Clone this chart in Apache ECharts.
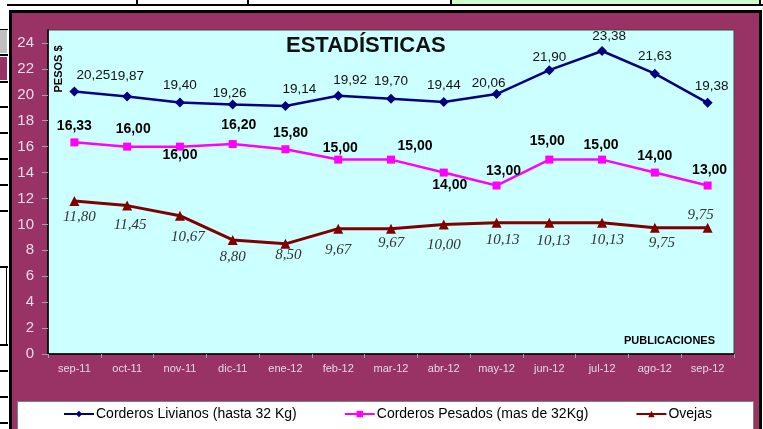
<!DOCTYPE html>
<html>
<head>
<meta charset="utf-8">
<script src="https://cdn.jsdelivr.net/npm/echarts@6/dist/echarts.min.js"></script>
<style>
html,body{margin:0;padding:0;width:763px;height:429px;overflow:hidden;background:#fff;position:relative;}
.d{position:absolute;}
#chart{position:absolute;left:0;top:0;width:763px;height:429px;}
</style>
</head>
<body>
<!-- spreadsheet decor -->
<div class="d" style="left:452px;top:0;width:307px;height:4px;background:#CCFFCC;"></div>
<div class="d" style="left:7px;top:4px;width:756px;height:2px;background:#000;"></div>
<div class="d" style="left:136px;top:0;width:2px;height:5px;background:#000;"></div>
<div class="d" style="left:247px;top:0;width:2px;height:5px;background:#000;"></div>
<div class="d" style="left:450px;top:0;width:2px;height:5px;background:#000;"></div>
<div class="d" style="left:759px;top:0;width:2px;height:5px;background:#000;"></div>
<div class="d" style="left:0;top:30px;width:7px;height:23px;background:#C0C0C0;"></div>
<div class="d" style="left:0;top:57px;width:7px;height:23px;background:#993366;"></div>
<div class="d" style="left:0;top:29px;width:8px;height:1px;background:#000;"></div>
<div class="d" style="left:0;top:54px;width:8px;height:2px;background:#000;"></div>
<div class="d" style="left:0;top:81px;width:8px;height:2px;background:#000;"></div>
<div class="d" style="left:0;top:106px;width:8px;height:2px;background:#000;"></div>
<div class="d" style="left:0;top:132px;width:8px;height:2px;background:#000;"></div>
<div class="d" style="left:0;top:158px;width:8px;height:2px;background:#000;"></div>
<div class="d" style="left:0;top:184px;width:8px;height:2px;background:#000;"></div>
<div class="d" style="left:0;top:210px;width:8px;height:2px;background:#000;"></div>
<div class="d" style="left:0;top:266px;width:8px;height:2px;background:#000;"></div>
<div class="d" style="left:6px;top:266px;width:1px;height:80px;background:#000;"></div>
<div class="d" style="left:0;top:344px;width:8px;height:2px;background:#000;"></div>
<div class="d" style="left:0;top:370px;width:8px;height:2px;background:#000;"></div>
<div class="d" style="left:0;top:396px;width:8px;height:2px;background:#000;"></div>
<div class="d" style="left:0;top:422px;width:8px;height:2px;background:#000;"></div>
<!-- chart frame -->
<div class="d" style="left:9px;top:10px;width:747px;height:440px;border:3px solid #000;background:#993366;"></div>
<!-- legend box -->
<div class="d" style="left:17px;top:401px;width:735px;height:40px;border:1px solid #808080;background:#fff;"></div>
<div id="chart"></div>
<script>
const categories = ['sep-11','oct-11','nov-11','dic-11','ene-12','feb-12','mar-12','abr-12','may-12','jun-12','jul-12','ago-12','sep-12'];
const livianos = [20.25,19.87,19.40,19.26,19.14,19.92,19.70,19.44,20.06,21.90,23.38,21.63,19.38];
const pesados = [16.33,16.00,16.00,16.20,15.80,15.00,15.00,14.00,13.00,15.00,15.00,14.00,13.00];
const ovejas = [11.80,11.45,10.67,8.80,8.50,9.67,9.67,10.00,10.13,10.13,10.13,9.75,9.75];
const yTicks = [0,2,4,6,8,10,12,14,16,18,20,22,24];
const seriesNames = ['Corderos Livianos (hasta 32 Kg)','Corderos Pesados (mas de 32Kg)','Ovejas'];

// label placement styles (kept apart from data)
const labelPlacement = {
  livianos: {pos:'top', special:{}, tweak:{0:[19,1],1:[0,-3],3:[-3,6],4:[14,0],5:[12,1.5],8:[-8,6.5],9:[0,4.5],10:[7,2.5],12:[4,0]}},
  pesados: {pos:'top', special:{2:'bottom',7:'bottom'}, tweak:{1:[6,-1.6],2:[0,-7.6],3:[6,-3],4:[5,0],5:[2,4.5],6:[24,2.4],7:[6,-3.6],8:[7,1.5],9:[-2,-2.6],10:[-1,1.7],12:[2,1]}},
  ovejas: {pos:'bottom', special:{12:'top'}, tweak:{0:[5,-1.5],1:[3,2],2:[8,4],4:[3,-6],5:[0,4],6:[0,-3],7:[0,3],8:[6,0],9:[4,1],10:[5,0],11:[7,-2],12:[-7,5]}}
};

function fmt(v){ return v.toFixed(2).replace('.', ','); }
function buildData(values, place){
  return values.map(function(v,i){
    const pos = place.special[i] || place.pos;
    const off = place.tweak[i] || [0,0];
    return {value: v, label: {position: pos, offset: off}};
  });
}

const chart = echarts.init(document.getElementById('chart'), null, {renderer:'canvas'});
const sansFont = '"Liberation Sans", Arial, sans-serif';
const option = {
  backgroundColor: 'transparent',
  animation: false,
  grid: {left: 48, right: 29, top: 30, bottom: 75, show: true, backgroundColor: '#CCFFFF', borderColor: '#404040', borderWidth: 1},
  legend: {
    left: 63, top: 407, padding: 0, itemWidth: 30, itemHeight: 8, itemGap: 47,
    textStyle: {fontFamily: sansFont, fontSize: 14, color: '#000', padding: [0,0,0,-3]},
    data: seriesNames
  },
  xAxis: {
    type: 'category', data: categories, boundaryGap: true,
    axisLine: {lineStyle: {color: '#000', width: 1.5}},
    axisTick: {show: true, length: 4, lineStyle: {color: '#a0a0a0'}},
    axisLabel: {color: '#e2d8e6', fontFamily: sansFont, fontSize: 11, margin: 9},
    splitLine: {show: false}
  },
  yAxis: {
    type: 'value', min: 0, max: 25, interval: 2,
    axisLine: {show: true, lineStyle: {color: '#000', width: 1.5}},
    axisTick: {show: true, length: 6, lineStyle: {color: '#a0a0a0'}, customValues: yTicks},
    axisLabel: {color: '#e8dde8', fontFamily: sansFont, fontSize: 15, margin: 14, customValues: yTicks},
    splitLine: {show: false}
  },
  graphic: [
    {type:'text', left: 286, top: 35, style:{text:'ESTADÍSTICAS', font:'bold 22px "Liberation Sans", Arial', fill:'#111'}},
    {type:'text', x: 59, y: 69, rotation: Math.PI/2, style:{text:'PESOS $', font:'bold 11px "Liberation Sans", Arial', fill:'#000', align:'center', verticalAlign:'middle'}},
    {type:'text', right: 48, top: 335, style:{text:'PUBLICACIONES', font:'bold 11px "Liberation Sans", Arial', fill:'#000'}}
  ],
  series: [
    {
      name: seriesNames[0], type: 'line', data: buildData(livianos, labelPlacement.livianos),
      symbol: 'diamond', symbolSize: 10, showAllSymbol: true,
      lineStyle: {color: '#000080', width: 2.5}, itemStyle: {color: '#000080'},
      label: {show: true, distance: 5, formatter: function(p){return fmt(p.value);}, fontFamily: sansFont, fontSize: 13.5, color: '#111'},
      z: 4
    },
    {
      name: seriesNames[1], type: 'line', data: buildData(pesados, labelPlacement.pesados),
      symbol: 'rect', symbolSize: 8, showAllSymbol: true,
      lineStyle: {color: '#FF00FF', width: 2.5}, itemStyle: {color: '#FF00FF'},
      label: {show: true, distance: 5, formatter: function(p){return fmt(p.value);}, fontFamily: sansFont, fontSize: 14, fontWeight: 'bold', color: '#000'},
      z: 3
    },
    {
      name: seriesNames[2], type: 'line', data: buildData(ovejas, labelPlacement.ovejas),
      symbol: 'triangle', symbolSize: 10, showAllSymbol: true,
      lineStyle: {color: '#800000', width: 3}, itemStyle: {color: '#800000'},
      label: {show: true, distance: 5, formatter: function(p){return fmt(p.value);}, fontFamily: '"Liberation Serif", "Times New Roman", serif', fontStyle: 'italic', fontSize: 15, color: '#333'},
      z: 2
    }
  ]
};
chart.setOption(option);
</script>
</body>
</html>
